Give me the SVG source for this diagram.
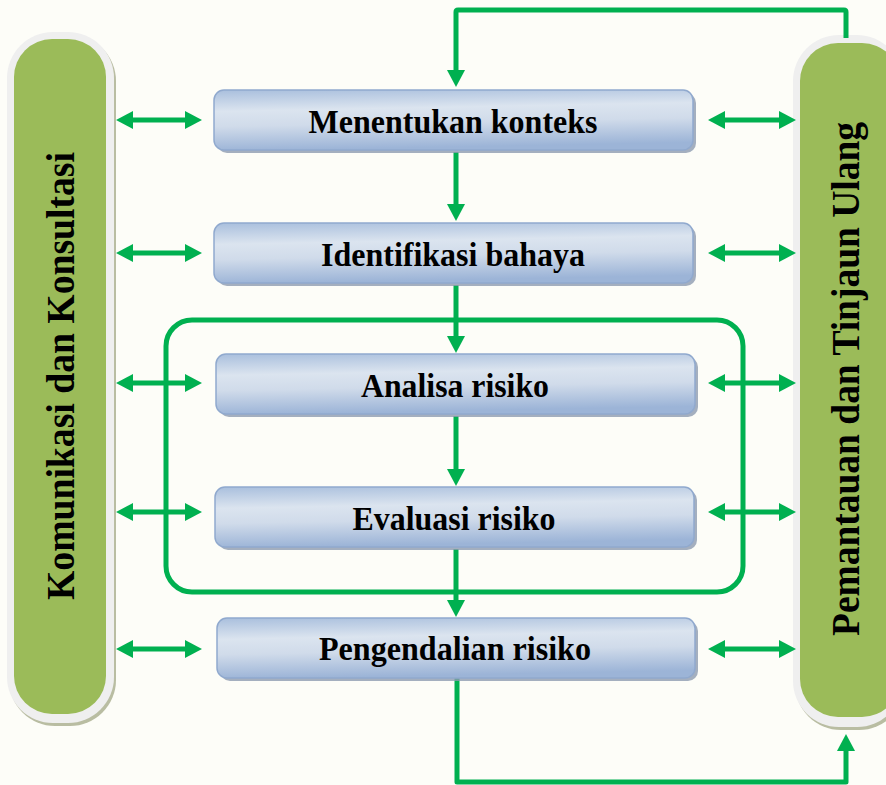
<svg xmlns="http://www.w3.org/2000/svg" width="886" height="785" viewBox="0 0 886 785">
  <defs>
    <linearGradient id="boxGrad" x1="0" y1="0" x2="0.15" y2="1">
      <stop offset="0" stop-color="#a9bfdd"/>
      <stop offset="0.35" stop-color="#dbe4ef"/>
      <stop offset="0.6" stop-color="#d0dbea"/>
      <stop offset="1" stop-color="#9cb4d7"/>
    </linearGradient>
    <marker id="ah" viewBox="0 0 17 18" refX="1" refY="9" markerWidth="17" markerHeight="18" markerUnits="userSpaceOnUse" orient="auto-start-reverse">
      <path d="M0,0 L17,9 L0,18 z" fill="#00b050"/>
    </marker>
    <style>
      .box { fill: url(#boxGrad); stroke: #90a9ce; stroke-width: 1.5; }
      .shadow { fill: #8d9bb0; opacity: 0.8; }
      .lbl { font-family: "Liberation Serif", "Times New Roman", serif; font-weight: bold; font-size: 33px; fill: #000; text-anchor: middle; }
      .vlbl { font-family: "Liberation Serif", "Times New Roman", serif; font-weight: bold; font-size: 39px; fill: #000; text-anchor: middle; }
      .outer { fill: #efefef; }
      .pshadow { fill: #b9bda2; }
      .green { fill: #9bbb59; }
      .con { fill: none; stroke: #00b050; stroke-width: 5; }
      .arr { fill: none; stroke: #00b050; stroke-width: 5; marker-start: url(#ah); marker-end: url(#ah); }
      .arr1 { fill: none; stroke: #00b050; stroke-width: 5; marker-end: url(#ah); }
    </style>
  </defs>
  <rect width="886" height="785" fill="#fdfdf8"/>

  <g id="panel-left">
    <rect class="pshadow" x="9" y="35" width="107" height="691" rx="46"/>
    <rect class="outer" x="7" y="32" width="107" height="691" rx="46"/>
    <rect class="green" x="14" y="39" width="92" height="675" rx="38"/>
    <text class="vlbl" transform="translate(74,376) rotate(-90)" textLength="448" lengthAdjust="spacingAndGlyphs">Komunikasi dan Konsultasi</text>
  </g>

  <g id="panel-right">
    <rect class="pshadow" x="795" y="38" width="110" height="692" rx="46"/>
    <rect class="outer" x="793" y="35" width="110" height="692" rx="46"/>
    <rect class="green" x="800" y="43" width="100" height="674" rx="38"/>
    <text class="vlbl" transform="translate(859,379) rotate(-90)" textLength="514" lengthAdjust="spacingAndGlyphs">Pemantauan dan Tinjaun Ulang</text>
  </g>

  <g id="container">
    <rect class="con" x="166" y="320" width="577" height="272" rx="26"/>
  </g>

  <g id="connectors">
    <line class="arr" x1="132" y1="120" x2="186" y2="120"/>
    <line class="arr" x1="132" y1="253" x2="186" y2="253"/>
    <line class="arr" x1="132" y1="383" x2="186" y2="383"/>
    <line class="arr" x1="132" y1="512" x2="186" y2="512"/>
    <line class="arr" x1="132" y1="649" x2="186" y2="649"/>
    <line class="arr" x1="724" y1="120" x2="780" y2="120"/>
    <line class="arr" x1="724" y1="253" x2="780" y2="253"/>
    <line class="arr" x1="724" y1="383" x2="780" y2="383"/>
    <line class="arr" x1="724" y1="512" x2="780" y2="512"/>
    <line class="arr" x1="724" y1="649" x2="780" y2="649"/>
    <path class="arr1" d="M846,38 L846,12 Q846,10 844,10 L458,10 Q456,10 456,12 L456,71" stroke-linejoin="round"/>
    <path class="arr1" d="M457,678 L457,782 L846,782 L846,750" stroke-linejoin="round"/>
    <line class="arr1" x1="456" y1="152" x2="456" y2="205"/>
    <line class="arr1" x1="456" y1="285" x2="456" y2="337"/>
    <line class="arr1" x1="456" y1="416" x2="456" y2="470"/>
    <line class="arr1" x1="456" y1="549" x2="456" y2="601"/>
  </g>

  <g id="n1">
    <rect class="shadow" x="217" y="93" width="479" height="60" rx="10"/>
    <rect class="box" x="214" y="90" width="479" height="60" rx="10"/>
    <text class="lbl" x="453" y="133" textLength="289" lengthAdjust="spacingAndGlyphs">Menentukan konteks</text>
  </g>
  <g id="n2">
    <rect class="shadow" x="217" y="226" width="479" height="60" rx="10"/>
    <rect class="box" x="214" y="223" width="479" height="60" rx="10"/>
    <text class="lbl" x="453" y="266" textLength="264" lengthAdjust="spacingAndGlyphs">Identifikasi bahaya</text>
  </g>
  <g id="n3">
    <rect class="shadow" x="219" y="357" width="479" height="60" rx="10"/>
    <rect class="box" x="216" y="354" width="479" height="60" rx="10"/>
    <text class="lbl" x="455" y="397" textLength="188" lengthAdjust="spacingAndGlyphs">Analisa risiko</text>
  </g>
  <g id="n4">
    <rect class="shadow" x="218" y="490" width="479" height="60" rx="10"/>
    <rect class="box" x="215" y="487" width="479" height="60" rx="10"/>
    <text class="lbl" x="454" y="530" textLength="203" lengthAdjust="spacingAndGlyphs">Evaluasi risiko</text>
  </g>
  <g id="n5">
    <rect class="shadow" x="220" y="621" width="478" height="60" rx="10"/>
    <rect class="box" x="217" y="618" width="478" height="60" rx="10"/>
    <text class="lbl" x="455" y="660" textLength="272" lengthAdjust="spacingAndGlyphs">Pengendalian risiko</text>
  </g>
</svg>
